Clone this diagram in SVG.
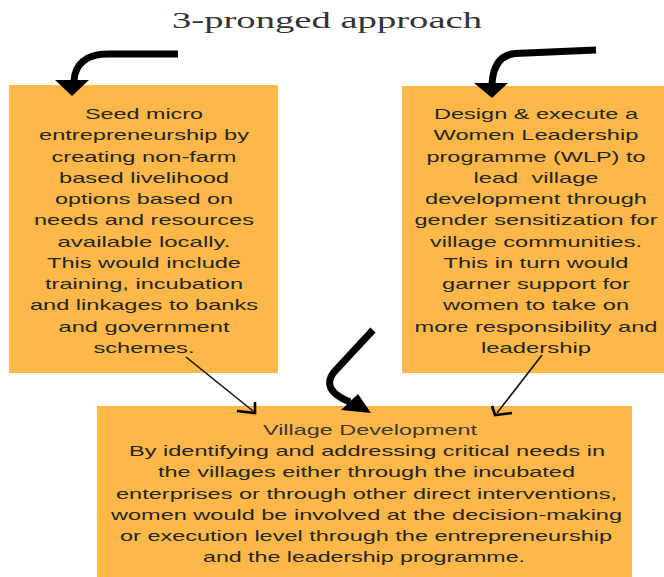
<svg xmlns="http://www.w3.org/2000/svg" width="664" height="577" viewBox="0 0 664 577">
<style>
.box{fill:#FDB849;}
.t{font-family:"Liberation Sans",Arial,sans-serif;font-size:15px;fill:#262626;text-anchor:middle;}
.title{font-family:"Liberation Serif","Times New Roman",serif;font-size:23px;fill:#333;text-anchor:middle;}
.thick{fill:none;stroke:#000;stroke-width:7;}
.thin{fill:none;stroke:#111;stroke-width:1.6;}
.head{fill:#000;}
.vhead{fill:none;stroke:#000;stroke-width:2.6;stroke-linejoin:miter;}
</style>
<rect width="664" height="577" fill="#fff"/>
<text class="title" x="327" y="28" textLength="310" lengthAdjust="spacingAndGlyphs">3-pronged approach</text>

<g id="node-left">
<rect class="box" x="9" y="85" width="269" height="288"/>
<text class="t" x="144" y="119" textLength="118" lengthAdjust="spacingAndGlyphs">Seed micro</text>
<text class="t" x="144" y="140.25" textLength="210" lengthAdjust="spacingAndGlyphs">entrepreneurship by</text>
<text class="t" x="144" y="161.5" textLength="185" lengthAdjust="spacingAndGlyphs">creating non-farm</text>
<text class="t" x="144" y="182.75" textLength="170" lengthAdjust="spacingAndGlyphs">based livelihood</text>
<text class="t" x="144" y="204" textLength="178" lengthAdjust="spacingAndGlyphs">options based on</text>
<text class="t" x="144" y="225.25" textLength="220" lengthAdjust="spacingAndGlyphs">needs and resources</text>
<text class="t" x="144" y="246.5" textLength="173" lengthAdjust="spacingAndGlyphs">available locally.</text>
<text class="t" x="144" y="267.75" textLength="194" lengthAdjust="spacingAndGlyphs">This would include</text>
<text class="t" x="144" y="289" textLength="198" lengthAdjust="spacingAndGlyphs">training, incubation</text>
<text class="t" x="144" y="310.25" textLength="228" lengthAdjust="spacingAndGlyphs">and linkages to banks</text>
<text class="t" x="144" y="331.5" textLength="171" lengthAdjust="spacingAndGlyphs">and government</text>
<text class="t" x="144" y="352.75" textLength="101" lengthAdjust="spacingAndGlyphs">schemes.</text>
</g>

<g id="node-right">
<rect class="box" x="402" y="86" width="262" height="287"/>
<text class="t" x="536" y="119" textLength="204" lengthAdjust="spacingAndGlyphs">Design &amp; execute a</text>
<text class="t" x="536" y="140.25" textLength="205" lengthAdjust="spacingAndGlyphs">Women Leadership</text>
<text class="t" x="536" y="161.5" textLength="219" lengthAdjust="spacingAndGlyphs">programme (WLP) to</text>
<text class="t" x="536" y="182.75" textLength="125" lengthAdjust="spacingAndGlyphs" xml:space="preserve">lead  village</text>
<text class="t" x="536" y="204" textLength="222" lengthAdjust="spacingAndGlyphs">development through</text>
<text class="t" x="536" y="225.25" textLength="243" lengthAdjust="spacingAndGlyphs">gender sensitization for</text>
<text class="t" x="536" y="246.5" textLength="212" lengthAdjust="spacingAndGlyphs">village communities.</text>
<text class="t" x="536" y="267.75" textLength="185" lengthAdjust="spacingAndGlyphs">This in turn would</text>
<text class="t" x="536" y="289" textLength="188" lengthAdjust="spacingAndGlyphs">garner support for</text>
<text class="t" x="536" y="310.25" textLength="186" lengthAdjust="spacingAndGlyphs">women to take on</text>
<text class="t" x="536" y="331.5" textLength="243" lengthAdjust="spacingAndGlyphs">more responsibility and</text>
<text class="t" x="536" y="352.75" textLength="110" lengthAdjust="spacingAndGlyphs">leadership</text>
</g>

<g id="node-bottom">
<rect class="box" x="97" y="406" width="535" height="171"/>
<text class="t" x="370" y="435" textLength="214" lengthAdjust="spacingAndGlyphs" style="fill:#3a3a3a">Village Development</text>
<text class="t" x="367" y="456.2" textLength="476" lengthAdjust="spacingAndGlyphs">By identifying and addressing critical needs in</text>
<text class="t" x="366.5" y="477.4" textLength="417" lengthAdjust="spacingAndGlyphs">the villages either through the incubated</text>
<text class="t" x="366.5" y="498.6" textLength="501" lengthAdjust="spacingAndGlyphs">enterprises or through other direct interventions,</text>
<text class="t" x="366.5" y="519.8" textLength="511" lengthAdjust="spacingAndGlyphs">women would be involved at the decision-making</text>
<text class="t" x="366" y="541" textLength="492" lengthAdjust="spacingAndGlyphs">or execution level through the entrepreneurship</text>
<text class="t" x="364" y="562.2" textLength="322" lengthAdjust="spacingAndGlyphs">and the leadership programme.</text>
</g>

<g id="connectors">
<path class="thick" d="M 178 54 L 108 54 C 86 54 75 64 74 81"/>
<polygon class="head" points="55,80 89,80 72,96"/>
<path class="thick" d="M 596 50 L 515 53.5 C 500 55 493 66 492 84"/>
<polygon class="head" points="474,83 508,83 492,98"/>
<path class="thick" d="M 373 330 L 334 372 Q 320 390 350 402"/>
<polygon class="head" points="358,394 341,410 371,413"/>
<path class="thin" d="M 186 357 L 253 411"/>
<polyline class="vhead" points="237,411 255,413 255,402"/>
<path class="thin" d="M 542 355 L 497 413"/>
<polyline class="vhead" points="492,406 495,415 512,413"/>
</g>
</svg>
